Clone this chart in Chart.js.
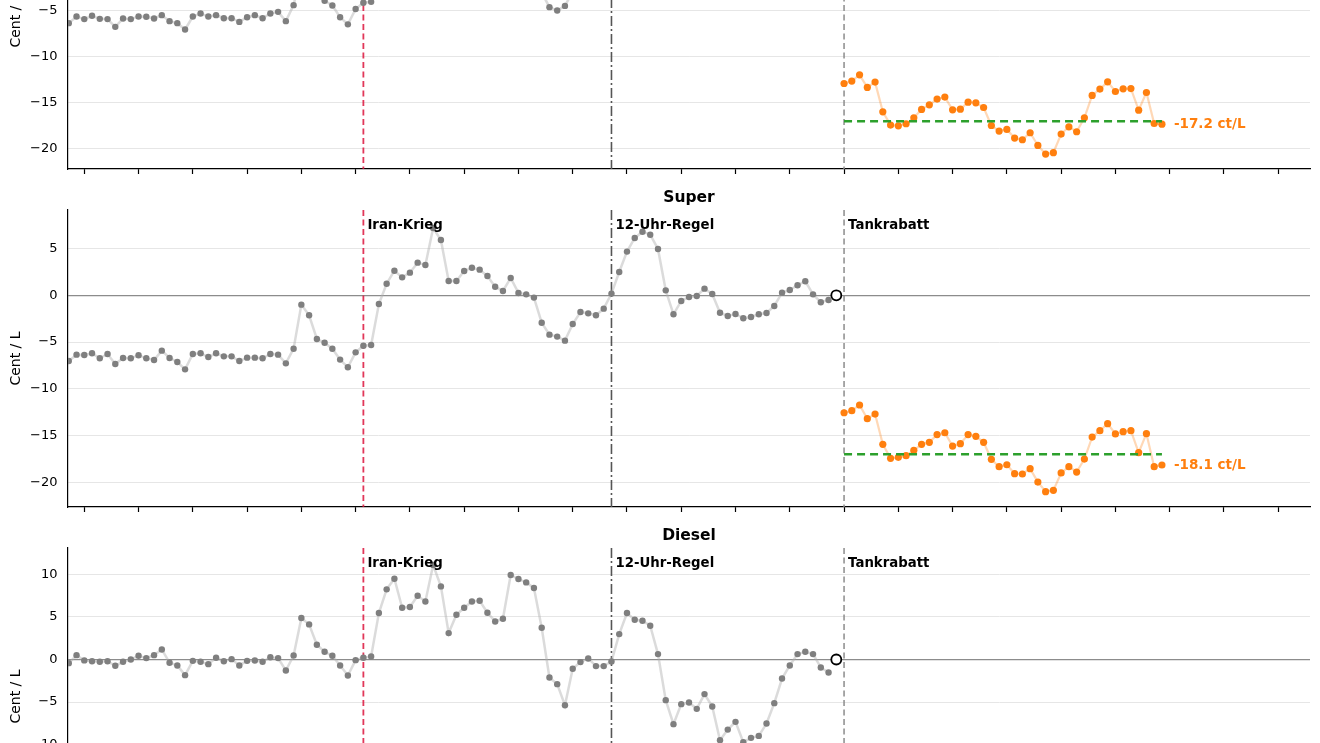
<!DOCTYPE html>
<html>
<head>
<meta charset="utf-8">
<script src="https://cdn.jsdelivr.net/npm/chart.js@4.4.1/dist/chart.umd.min.js"></script>
<style>
  html, body { margin: 0; padding: 0; background: #fff; }
  #wrap { position: relative; width: 1320px; height: 743px; overflow: hidden; }
  #wrap canvas { position: absolute; left: 0; }
</style>
</head>
<body>
<div id="wrap">
  <canvas id="c-e10" width="1320" height="347" style="top:-158px"></canvas>
  <canvas id="c-super" width="1320" height="347" style="top:180px"></canvas>
  <canvas id="c-diesel" width="1320" height="347" style="top:518px"></canvas>
</div>
<script>
// days since start of the window; weekly ticks
const tickDays = [2, 9, 16, 23, 30, 37, 44, 51, 58, 65, 72, 79, 86, 93, 100, 107, 114, 121, 128, 135, 142, 149, 156];
const eventDays = [38, 70, 100];
const eventNames = ['Iran-Krieg', '12-Uhr-Regel', 'Tankrabatt'];
const openDay = 99;
const openValue = 0;
const rabattStart = 100;
const rabattEnd = 141;
const rabattLevel = -17.0;

// difference in Cent / L, days 0..98
const e10Before = [
  -6.34, -5.62, -5.90, -5.54, -5.87, -5.90, -6.74, -5.83, -5.90, -5.62,
  -5.65, -5.83, -5.47, -6.12, -6.34, -7.03, -5.62, -5.29, -5.62, -5.47,
  -5.80, -5.80, -6.20, -5.69, -5.47, -5.80, -5.29, -5.11, -6.12, -4.38,
  -0.6, -1.8, -3.3, -3.91, -4.42, -5.69, -6.47, -4.80, -4.12, -4.02,
  -0.5, 1.6, 3.0, 2.3, 2.8, 3.9, 3.6, 7.8, 6.3, 1.9,
  1.9, 3.0, 3.3, 3.1, 2.4, 1.3, 0.8, 2.2, 0.6, 0.4,
  0.1, -3.0, -4.60, -4.97, -4.46, -2.9, -1.6, -1.7, -1.9, -1.2,
  0.4, 2.7, 4.9, 6.4, 7.0, 6.7, 5.2, 0.8, -1.8, -0.4,
  0.0, 0.1, 0.9, 0.3, -1.6, -2.0, -1.8, -2.2, -2.1, -1.8,
  -1.7, -0.9, 0.5, 0.8, 1.3, 1.7, 0.3, -0.5, -0.3
];
const superBefore = [
  -7.03, -6.35, -6.38, -6.20, -6.74, -6.28, -7.35, -6.70, -6.74, -6.42,
  -6.74, -6.92, -5.92, -6.70, -7.13, -7.92, -6.28, -6.20, -6.60, -6.20,
  -6.53, -6.53, -7.03, -6.67, -6.67, -6.74, -6.28, -6.35, -7.28, -5.71,
  -1.00, -2.14, -4.67, -5.07, -5.71, -6.88, -7.70, -6.10, -5.39, -5.32,
  -0.93, 1.24, 2.63, 1.92, 2.42, 3.49, 3.24, 7.20, 5.91, 1.53,
  1.53, 2.60, 2.95, 2.74, 2.06, 0.92, 0.46, 1.85, 0.25, 0.10,
  -0.25, -2.93, -4.21, -4.42, -4.85, -3.07, -1.79, -1.93, -2.14, -1.43,
  0.18, 2.49, 4.67, 6.13, 6.80, 6.48, 4.95, 0.53, -2.03, -0.61,
  -0.18, -0.07, 0.71, 0.14, -1.86, -2.21, -2.00, -2.46, -2.32, -2.03,
  -1.89, -1.14, 0.28, 0.57, 1.07, 1.50, 0.10, -0.75, -0.50
];
const dieselBefore = [
  -0.43, 0.51, -0.11, -0.20, -0.27, -0.20, -0.74, -0.27, 0.00, 0.43,
  0.16, 0.51, 1.18, -0.39, -0.70, -1.84, -0.16, -0.27, -0.55, 0.20,
  -0.20, 0.04, -0.70, -0.16, -0.12, -0.27, 0.27, 0.16, -1.29, 0.47,
  4.87, 4.12, 1.73, 0.90, 0.43, -0.70, -1.88, -0.08, 0.20, 0.35,
  5.46, 8.24, 9.49, 6.08, 6.16, 7.49, 6.82, 11.10, 8.59, 3.10,
  5.26, 6.08, 6.82, 6.90, 5.49, 4.47, 4.79, 9.93, 9.45, 9.06,
  8.40, 3.73, -2.12, -2.90, -5.37, -1.09, -0.31, 0.12, -0.78, -0.78,
  -0.24, 2.98, 5.46, 4.67, 4.55, 3.96, 0.63, -4.78, -7.60, -5.25,
  -5.06, -5.80, -4.07, -5.53, -9.49, -8.24, -7.33, -9.72, -9.21, -8.98,
  -7.53, -5.13, -2.24, -0.70, 0.63, 0.90, 0.63, -0.94, -1.53
];

// days 100..141 (Tankrabatt)
const e10After = [
  -12.90, -12.64, -11.96, -13.33, -12.75, -15.98, -17.42, -17.50, -17.28, -16.63,
  -15.72, -15.22, -14.60, -14.38, -15.76, -15.69, -14.93, -15.00, -15.51, -17.47,
  -18.08, -17.90, -18.84, -19.02, -18.26, -19.64, -20.58, -20.43, -18.40, -17.61,
  -18.15, -16.63, -14.20, -13.51, -12.72, -13.77, -13.48, -13.45, -15.80, -13.88,
  -17.25, -17.32
];
const superAfter = [
  -12.56, -12.34, -11.73, -13.20, -12.70, -15.94, -17.43, -17.33, -17.15, -16.58,
  -15.94, -15.72, -14.90, -14.70, -16.12, -15.87, -14.90, -15.08, -15.72, -17.54,
  -18.33, -18.12, -19.08, -19.11, -18.54, -19.97, -21.00, -20.86, -19.00, -18.33,
  -18.90, -17.51, -15.16, -14.48, -13.73, -14.83, -14.59, -14.48, -16.83, -14.80,
  -18.33, -18.15
];

const yTicksE10 = [-20, -15, -10, -5, 0, 5];
const yTicksSuper = [-20, -15, -10, -5, 0, 5];
const yTicksDiesel = [-20, -15, -10, -5, 0, 5, 10];

Chart.defaults.font.family = 'DejaVu Sans';
Chart.defaults.color = '#000';

const eventStyles = [
  { color: 'rgba(220,20,60,0.85)', width: 1.8, dash: [6, 3.5] },
  { color: '#555555', width: 1.6, dash: [10, 3, 2, 3] },
  { color: '#8c8c8c', width: 1.5, dash: [6, 3.5] }
];

const panelDecor = {
  id: 'panelDecor',
  beforeDatasetsDraw(chart) {
    const { ctx, chartArea: a, scales: { x } } = chart;
    eventDays.forEach((d, i) => {
      const px = x.getPixelForValue(d);
      const st = eventStyles[i];
      ctx.save();
      ctx.strokeStyle = st.color;
      ctx.lineWidth = st.width;
      ctx.setLineDash(st.dash);
      ctx.beginPath();
      ctx.moveTo(px, a.top);
      ctx.lineTo(px, a.bottom);
      ctx.stroke();
      ctx.restore();
    });
  },
  afterDatasetsDraw(chart, args, opts) {
    const { ctx, chartArea: a, scales: { x, y } } = chart;
    ctx.save();
    ctx.fillStyle = '#000';
    ctx.textBaseline = 'middle';
    ctx.font = 'bold 15.5px "DejaVu Sans"';
    ctx.textAlign = 'center';
    ctx.fillText(opts.title, (a.left + a.right) / 2, a.top - 12);
    ctx.font = 'bold 13.3px "DejaVu Sans"';
    ctx.textAlign = 'left';
    eventDays.forEach((d, i) => {
      ctx.fillText(eventNames[i], x.getPixelForValue(d) + 4, a.top + 16);
    });
    if (opts.endLabel && opts.after) {
      const last = opts.after.length - 1;
      ctx.fillStyle = '#ff7f0e';
      ctx.font = 'bold 13.5px "DejaVu Sans"';
      ctx.fillText(opts.endLabel, x.getPixelForValue(rabattStart + last) + 12, y.getPixelForValue(opts.after[last]));
    }
    ctx.restore();
  }
};

function makePanel(id, title, before, after, yMin, yMax, yTicks, endLabel) {
  const datasets = [
    {
      data: before.map((v, i) => ({ x: i, y: v })),
      borderColor: 'rgba(175,175,175,0.45)',
      borderWidth: 2.5,
      pointRadius: 3.2,
      pointBackgroundColor: '#7f7f7f',
      pointBorderWidth: 0,
      tension: 0
    },
    {
      data: [{ x: openDay, y: openValue }],
      showLine: false,
      pointRadius: 5,
      pointBackgroundColor: '#fff',
      pointBorderColor: '#000',
      pointBorderWidth: 1.8
    }
  ];
  if (after) {
    datasets.push({
      data: [{ x: rabattStart, y: rabattLevel }, { x: rabattEnd, y: rabattLevel }],
      borderColor: '#2ca02c',
      borderWidth: 2.5,
      borderDash: [8, 5],
      pointRadius: 0
    });
    datasets.push({
      data: after.map((v, i) => ({ x: rabattStart + i, y: v })),
      borderColor: 'rgba(255,127,14,0.3)',
      borderWidth: 2.2,
      pointRadius: 3.6,
      pointBackgroundColor: '#ff7f0e',
      pointBorderWidth: 0,
      tension: 0
    });
  }

  new Chart(document.getElementById(id).getContext('2d'), {
    type: 'line',
    data: { datasets: datasets },
    plugins: [panelDecor],
    options: {
      responsive: false,
      animation: false,
      devicePixelRatio: 1,
      layout: { padding: { top: 30, right: 10, left: 0, bottom: 0 } },
      plugins: {
        legend: { display: false },
        tooltip: { enabled: false },
        panelDecor: { title: title, endLabel: endLabel, after: after }
      },
      scales: {
        x: {
          type: 'linear',
          min: -0.1,
          max: 160.1,
          afterBuildTicks: s => { s.ticks = tickDays.map(v => ({ value: v })); },
          afterFit: s => { s.height = 20; },
          ticks: { display: false },
          grid: { drawOnChartArea: false, drawTicks: true, tickLength: 5, tickColor: '#000', tickWidth: 1.2 },
          border: { display: true, color: '#000', width: 1.2 }
        },
        y: {
          min: yMin,
          max: yMax,
          afterBuildTicks: s => { s.ticks = yTicks.map(v => ({ value: v })); },
          afterFit: s => { s.width = 68; },
          ticks: {
            font: { size: 13 },
            color: '#000',
            padding: 10.5,
            callback: v => String(v).replace('-', '\u2212')
          },
          grid: {
            drawTicks: false,
            color: c => (c.tick && c.tick.value === 0) ? '#8c8c8c' : '#e6e6e6',
            lineWidth: c => (c.tick && c.tick.value === 0) ? 1.2 : 1
          },
          border: { display: true, color: '#000', width: 1.2 },
          title: { display: true, text: 'Cent / L', font: { size: 14 }, color: '#000', padding: { top: 7.6, bottom: 0 } }
        }
      }
    }
  });
}

makePanel('c-e10', 'E10', e10Before, e10After, -22.2, 10.1, yTicksE10, '-17.2 ct/L');
makePanel('c-super', 'Super', superBefore, superAfter, -22.64, 9.12, yTicksSuper, '-18.1 ct/L');
makePanel('c-diesel', 'Diesel', dieselBefore, null, -21.8, 13.1, yTicksDiesel, null);
</script>
</body>
</html>
